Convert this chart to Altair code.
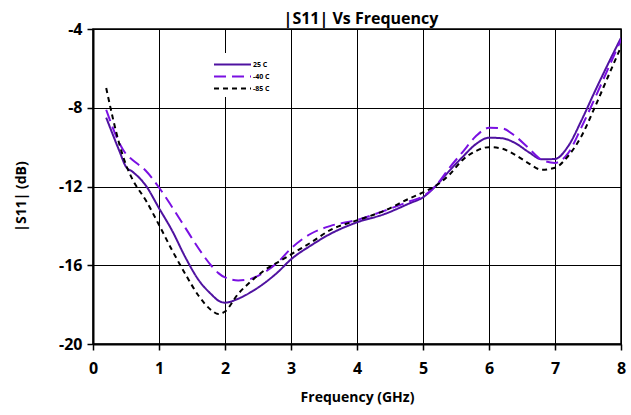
import altair as alt
import pandas as pd

# Return loss readings, dB, on a shared frequency grid (GHz)
freq_ghz = [0.2, 0.4, 0.5, 0.6, 0.8, 1.0, 1.2, 1.4, 1.6, 1.8, 1.9, 2.0, 2.2, 2.4,
            2.6, 2.8, 3.0, 3.3, 3.6, 4.0, 4.4, 4.8, 5.0, 5.2, 5.4, 5.6, 5.8, 6.0,
            6.2, 6.4, 6.6, 6.8, 7.0, 7.2, 7.4, 7.6, 7.8, 8.0]

s11_25c = [-8.5, -10.2, -11.0, -11.25, -11.95, -13.1, -14.25, -15.6, -16.75, -17.5,
           -17.8, -17.9, -17.7, -17.35, -16.9, -16.35, -15.7, -15.0, -14.4, -13.82,
           -13.42, -12.85, -12.55, -11.95, -11.2, -10.5, -9.85, -9.52, -9.55, -9.8,
           -10.25, -10.62, -10.6, -9.95, -8.65, -7.2, -5.8, -4.45]

s11_m40c = [-8.1, -9.8, -10.35, -10.65, -11.2, -12.05, -13.05, -14.1, -15.15, -16.05,
            -16.4, -16.62, -16.77, -16.68, -16.35, -15.85, -15.15, -14.4, -14.0, -13.7,
            -13.25, -12.75, -12.5, -11.94, -11.05, -10.25, -9.45, -9.02, -9.05, -9.45,
            -10.05, -10.65, -10.8, -10.3, -9.0, -7.55, -6.05, -4.55]

s11_m85c = [-7.0, -9.85, -10.9, -11.65, -12.7, -13.95, -15.25, -16.45, -17.55, -18.3,
            -18.48, -18.35, -17.45, -16.8, -16.25, -15.85, -15.45, -14.85, -14.2, -13.72,
            -13.25, -12.6, -12.3, -11.95, -11.4, -10.65, -10.2, -10.0, -10.08, -10.4,
            -10.82, -11.15, -11.05, -10.45, -9.45, -8.0, -6.45, -4.9]

series_names = ["25 C", "-40 C", "-85 C"]
series_colors = ["#4F12A0", "#7A10E2", "#000000"]
series_dashes = [[1, 0], [12, 6], [5, 4]]

x_ticks = [0, 1, 2, 3, 4, 5, 6, 7, 8]
y_ticks = [-20, -16, -12, -8, -4]

rows = []
for name, vals in zip(series_names, [s11_25c, s11_m40c, s11_m85c]):
    for f, v in zip(freq_ghz, vals):
        rows.append({"Frequency": f, "S11": v, "Series": name})
df = pd.DataFrame(rows)

FONT = "Open Sans"

# Long horizontal line glyph (3x the unit half-width) so each legend row stays short
legend = alt.Legend(
    title=None,
    orient="none",
    legendX=128,
    legendY=24,
    symbolType="M-3,0H3",
    symbolSize=152,
    symbolStrokeWidth=2,
    labelFont=FONT,
    labelFontSize=7,
    labelFontWeight="bold",
    labelColor="black",
    labelOffset=13,
    rowPadding=-8.5,
    fillColor="white",
    padding=4,
)

chart = alt.Chart(df).mark_line(strokeWidth=2, interpolate="monotone", clip=True).encode(
    x=alt.X(
        "Frequency:Q",
        scale=alt.Scale(domain=[0, 8], nice=False),
        axis=alt.Axis(
            values=x_ticks,
            title="Frequency (GHz)",
            titleX=264,
            titleY=53,
            titleBaseline="middle",
            labelPadding=10,
            labelFontSize=16,
            labelFlush=False,
        ),
    ),
    y=alt.Y(
        "S11:Q",
        scale=alt.Scale(domain=[-20, -4], nice=False),
        axis=alt.Axis(
            values=y_ticks,
            title="|S11|  (dB)",
            titleX=-72,
            titleY=167,
            titleBaseline="middle",
            titleAngle=270,
            labelExpr="datum.value + ''",
            labelPadding=5,
            labelFontSize=16,
            labelFlush=False,
        ),
    ),
    color=alt.Color(
        "Series:N",
        scale=alt.Scale(domain=series_names, range=series_colors),
        legend=legend,
    ),
    strokeDash=alt.StrokeDash(
        "Series:N",
        scale=alt.Scale(domain=series_names, range=series_dashes),
        legend=legend,
    ),
).properties(
    width=528,
    height=315,
    autosize=alt.AutoSizeParams(type="none"),
    padding={"left": 93, "top": 29, "right": 10, "bottom": 71},
    title=alt.TitleParams(
        "|S11| Vs Frequency",
        font=FONT,
        fontSize=16,
        fontWeight="bold",
        color="black",
        anchor="middle",
        baseline="alphabetic",
        offset=-1,
        dx=4,
        dy=18,
    ),
).configure_view(
    stroke="black",
    strokeWidth=1.5,
).configure_axis(
    grid=True,
    gridColor="black",
    gridOpacity=1,
    gridWidth=1,
    domainColor="black",
    domainWidth=2,
    tickColor="black",
    tickSize=6,
    tickWidth=1.5,
    labelFont=FONT,
    labelFontWeight="bold",
    labelColor="black",
    titleFont=FONT,
    titleFontSize=14,
    titleFontWeight="bold",
    titleColor="black",
)

chart.save("out.html", embed_options={"renderer": "svg", "actions": False})
